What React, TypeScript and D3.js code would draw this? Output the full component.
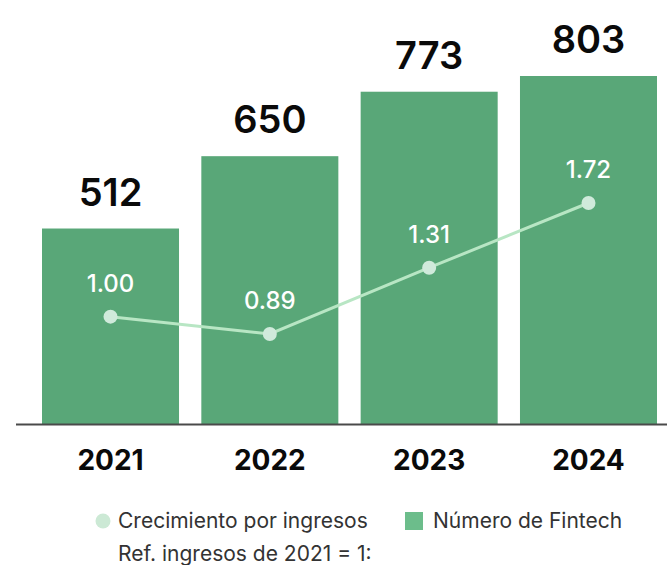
import * as d3 from "d3";
import { useEffect, useRef } from "react";

const years = ["2021", "2022", "2023", "2024"];
const fintechCount = [512, 650, 773, 803];
const revenueGrowth = [1.0, 0.89, 1.31, 1.72];
const growthLabels = ["1.00", "0.89", "1.31", "1.72"];

export default function App() {
  const svgRef = useRef<SVGSVGElement | null>(null);

  useEffect(() => {
    if (!svgRef.current) return;
    const width = 667;
    const height = 565;
    const baseY = 424;
    const font = "Inter, 'Open Sans', sans-serif";

    const svg = d3.select(svgRef.current);
    svg.selectAll("*").remove();

    const x = d3.scaleBand<string>().domain(years).range([42, 657]).paddingInner(0.14).paddingOuter(0);
    // bars don't start at zero in the original graphic
    const y = d3.scaleLinear().domain([139, 803]).range([baseY, 76]);
    const yLine = d3.scaleLinear().domain([0.89, 1.72]).range([334, 203]);

    const cx = (i: number) => (x(years[i]) ?? 0) + x.bandwidth() / 2;

    // === barras ===
    svg
      .selectAll("rect.bar")
      .data(fintechCount)
      .enter()
      .append("rect")
      .attr("class", "bar")
      .attr("x", (_, i) => x(years[i]) ?? 0)
      .attr("y", (d) => y(d))
      .attr("width", x.bandwidth())
      .attr("height", (d) => baseY - y(d))
      .attr("fill", "#59a778");

    // === valores arriba ===
    svg
      .selectAll("text.val")
      .data(fintechCount)
      .enter()
      .append("text")
      .attr("x", (_, i) => cx(i))
      .attr("y", (d) => y(d) - 23)
      .attr("text-anchor", "middle")
      .attr("font-family", font)
      .attr("font-size", 38)
      .attr("font-weight", 600)
      .attr("fill", "#0a0a0a")
      .text((d) => d);

    // === eje ===
    svg
      .append("line")
      .attr("x1", 16)
      .attr("x2", width)
      .attr("y1", baseY + 0.5)
      .attr("y2", baseY + 0.5)
      .attr("stroke", "#4a4a4a")
      .attr("stroke-width", 2);

    svg
      .selectAll("text.year")
      .data(years)
      .enter()
      .append("text")
      .attr("x", (_, i) => cx(i))
      .attr("y", 470)
      .attr("text-anchor", "middle")
      .attr("font-family", font)
      .attr("font-size", 28)
      .attr("font-weight", 700)
      .attr("fill", "#0a0a0a")
      .text((d) => d);

    // === línea de crecimiento ===
    const line = d3
      .line<number>()
      .x((_, i) => cx(i))
      .y((d) => yLine(d));

    svg
      .append("path")
      .datum(revenueGrowth)
      .attr("d", line)
      .attr("fill", "none")
      .attr("stroke", "#b8e6c4")
      .attr("stroke-width", 3);

    svg
      .selectAll("circle.pt")
      .data(revenueGrowth)
      .enter()
      .append("circle")
      .attr("cx", (_, i) => cx(i))
      .attr("cy", (d) => yLine(d))
      .attr("r", 7)
      .attr("fill", "#d0eadb");

    svg
      .selectAll("text.growth")
      .data(revenueGrowth)
      .enter()
      .append("text")
      .attr("x", (_, i) => cx(i))
      .attr("y", (d) => yLine(d) - 25)
      .attr("text-anchor", "middle")
      .attr("font-family", font)
      .attr("font-size", 24)
      .attr("font-weight", 500)
      .attr("fill", "#ffffff")
      .text((_, i) => growthLabels[i]);

    // === leyenda ===
    const lg = svg.append("g").attr("font-family", font).attr("font-size", 21).attr("fill", "#333");
    lg.append("circle").attr("cx", 103).attr("cy", 521).attr("r", 7.5).attr("fill", "#cce9d5");
    lg.append("text").attr("x", 118).attr("y", 528).text("Crecimiento por ingresos");
    lg.append("rect").attr("x", 405).attr("y", 512).attr("width", 18).attr("height", 18).attr("fill", "#6cbd8b");
    lg.append("text").attr("x", 433).attr("y", 528).text("Número de Fintech");
    lg.append("text").attr("x", 118).attr("y", 561).text("Ref. ingresos de 2021 = 1:");

    svg.attr("width", width).attr("height", height);
  }, []);

  return (
    <svg
      ref={svgRef}
      width={667}
      height={565}
      style={{ position: "absolute", top: 0, left: 0, background: "#fff" }}
    />
  );
}
